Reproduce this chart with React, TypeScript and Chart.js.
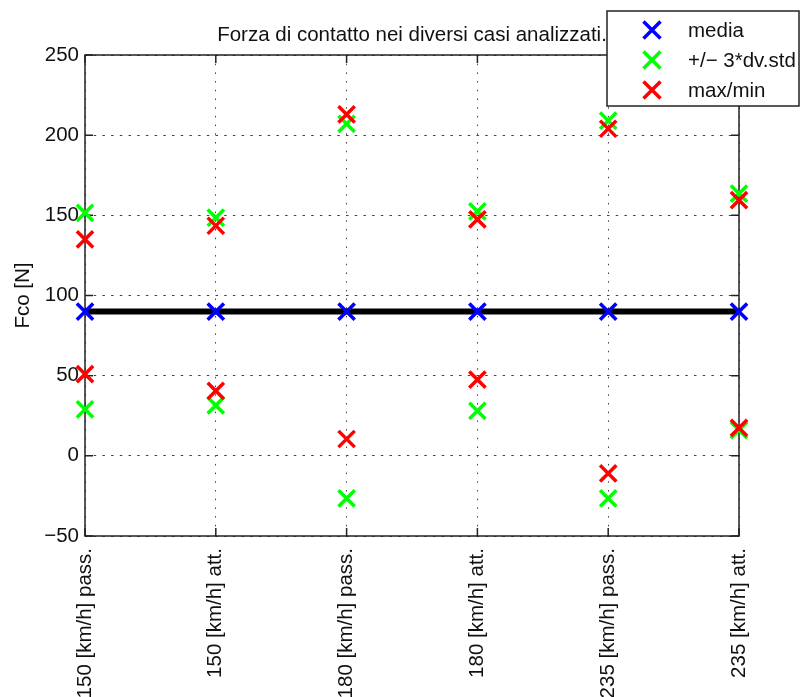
import { useEffect, useRef } from 'react';
import { Chart, registerables } from 'chart.js';

Chart.register(...registerables);

// Casi analizzati (velocità + configurazione)
const categories = [
  '150 [km/h] pass.',
  '150 [km/h] att.',
  '180 [km/h] pass.',
  '180 [km/h] att.',
  '235 [km/h] pass.',
  '235 [km/h] att.',
];

// Forza di contatto [N]
const media = [90, 90, 90, 90, 90, 90];
const stdSup = [151.5, 148.5, 207, 152.5, 209, 163.5];
const stdInf = [29, 31.5, -26.5, 28, -26.5, 16];
const massimi = [135, 143.5, 213, 147.5, 204, 159.5];
const minimi = [51, 40.5, 10.5, 47.5, -11, 17.5];
const forzaNominale = [90, 90, 90, 90, 90, 90];

const yTicks = [-50, 0, 50, 100, 150, 200, 250];

const BLUE = '#0000ff';
const GREEN = '#00ff00';
const RED = '#ff0000';
const FONT = "'Liberation Sans', Arial, Helvetica, sans-serif";
const FS = 20.5;

const legendItems = [
  { label: 'media', color: BLUE },
  { label: '+/\u2212 3*dv.std', color: GREEN },
  { label: 'max/min', color: RED },
];

const markerDataset = (label: string, data: number[], color: string, order: number) => ({
  type: 'line' as const,
  label,
  data,
  showLine: false,
  order,
  clip: false as const,
  pointStyle: 'crossRot' as const,
  pointRadius: 11.5,
  pointHoverRadius: 11.5,
  pointBorderWidth: 3.5,
  pointBorderColor: color,
  pointBackgroundColor: color,
  borderColor: color,
  backgroundColor: color,
});

function drawCross(ctx: CanvasRenderingContext2D, x: number, y: number, r: number, color: string) {
  ctx.save();
  ctx.strokeStyle = color;
  ctx.lineWidth = 3.5;
  ctx.beginPath();
  ctx.moveTo(x - r, y - r);
  ctx.lineTo(x + r, y + r);
  ctx.moveTo(x + r, y - r);
  ctx.lineTo(x - r, y + r);
  ctx.stroke();
  ctx.restore();
}

// Cornice dell'area del grafico con le tacche interne
const framePlugin = {
  id: 'frameTicks',
  beforeDatasetsDraw(chart: Chart) {
    const { ctx, chartArea } = chart;
    const { left, right, top, bottom } = chartArea;
    const xs = chart.scales.x;
    const ys = chart.scales.y;
    const tick = 8;
    ctx.save();
    ctx.strokeStyle = '#222';
    ctx.lineWidth = 1.5;
    ctx.beginPath();
    xs.ticks.forEach((_, i) => {
      const x = xs.getPixelForTick(i);
      ctx.moveTo(x, top);
      ctx.lineTo(x, top + tick);
      ctx.moveTo(x, bottom);
      ctx.lineTo(x, bottom - tick);
    });
    ys.ticks.forEach((_, i) => {
      const y = ys.getPixelForTick(i);
      ctx.moveTo(left, y);
      ctx.lineTo(left + tick, y);
      ctx.moveTo(right, y);
      ctx.lineTo(right - tick, y);
    });
    ctx.stroke();
    ctx.strokeRect(left, top, right - left, bottom - top);
    ctx.restore();
  },
};

// Legenda nel riquadro in alto a destra
const legendPlugin = {
  id: 'boxLegend',
  afterDraw(chart: Chart) {
    const { ctx } = chart;
    const bx = 607;
    const by = 11;
    const bw = 192;
    const bh = 95;
    ctx.save();
    ctx.fillStyle = '#ffffff';
    ctx.fillRect(bx, by, bw, bh);
    ctx.strokeStyle = '#222';
    ctx.lineWidth = 1.5;
    ctx.strokeRect(bx, by, bw, bh);
    ctx.font = `${FS}px ${FONT}`;
    ctx.textBaseline = 'middle';
    ctx.textAlign = 'left';
    legendItems.forEach((item, i) => {
      const y = by + 19 + i * 30;
      drawCross(ctx, bx + 45, y, 8.5, item.color);
      ctx.fillStyle = '#111';
      ctx.fillText(item.label, bx + 81, y + 1);
    });
    ctx.restore();
  },
};

export default function App() {
  const canvasRef = useRef<HTMLCanvasElement | null>(null);

  useEffect(() => {
    const canvas = canvasRef.current;
    if (!canvas) return;
    const chart = new Chart(canvas, {
      type: 'line',
      data: {
        labels: categories,
        datasets: [
          markerDataset('media', media, BLUE, 0),
          markerDataset('max', massimi, RED, 1),
          markerDataset('min', minimi, RED, 1),
          markerDataset('+3 dv.std', stdSup, GREEN, 2),
          markerDataset('-3 dv.std', stdInf, GREEN, 2),
          {
            type: 'line',
            label: 'nominale',
            data: forzaNominale,
            order: 3,
            borderColor: '#000000',
            borderWidth: 6,
            pointRadius: 0,
            borderCapStyle: 'butt',
            clip: false,
          },
        ],
      },
      options: {
        responsive: false,
        animation: false,
        events: [],
        layout: { padding: { left: 0, right: 61, top: 0, bottom: 0 } },
        plugins: {
          legend: { display: false },
          tooltip: { enabled: false },
          title: {
            display: true,
            fullSize: false,
            text: 'Forza di contatto nei diversi casi analizzati.',
            color: '#111',
            font: { family: FONT, size: FS, weight: 'normal', lineHeight: 1.2 },
            padding: { top: 23.5, bottom: 6.9 },
          },
        },
        scales: {
          x: {
            type: 'category',
            offset: false,
            grid: {
              color: '#444',
              lineWidth: 1,
              drawTicks: false,
            },
            border: { display: false, dash: [1.5, 7.2] },
            ticks: {
              autoSkip: false,
              maxRotation: 90,
              minRotation: 90,
              padding: 12,
              color: '#111',
              font: { family: FONT, size: FS },
            },
            afterFit(scale: any) {
              scale.height = 161;
            },
          },
          y: {
            type: 'linear',
            min: -50,
            max: 250,
            afterBuildTicks(scale: any) {
              scale.ticks = yTicks.map((v) => ({ value: v }));
            },
            grid: {
              color: '#444',
              lineWidth: 1,
              drawTicks: false,
            },
            border: { display: false, dash: [2.5, 6.2] },
            ticks: {
              padding: 6,
              color: '#111',
              font: { family: FONT, size: FS },
              callback: (v: any) => String(v).replace('-', '\u2212'),
            },
            title: {
              display: true,
              text: 'Fco [N]',
              color: '#111',
              font: { family: FONT, size: FS, lineHeight: 1.2 },
              padding: { top: 11, bottom: 0 },
            },
            afterFit(scale: any) {
              scale.width = 85;
            },
          },
        },
      },
      plugins: [framePlugin, legendPlugin],
    });
    return () => chart.destroy();
  }, []);

  return (
    <div style={{ position: 'absolute', left: 0, top: 0, width: 800, height: 697, background: '#fff' }}>
      <canvas ref={canvasRef} width={800} height={697} style={{ display: 'block' }} />
    </div>
  );
}
